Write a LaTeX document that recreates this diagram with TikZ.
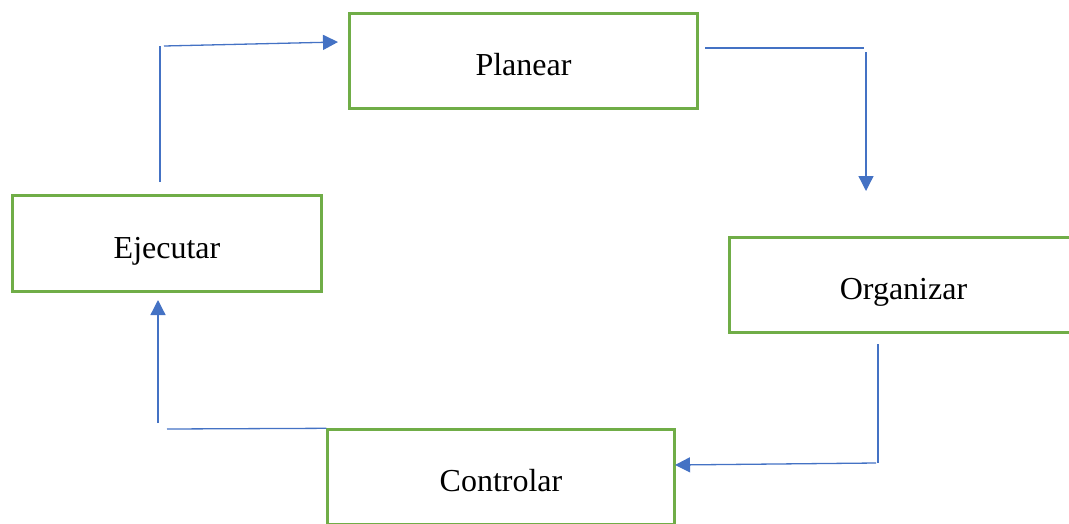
\documentclass[tikz,border=0pt]{standalone}
\usepackage{fontspec}
\setmainfont{Liberation Serif}
\usetikzlibrary{arrows.meta}
\definecolor{boxgreen}{HTML}{70AD47}
\definecolor{flowblue}{HTML}{4472C4}
\begin{document}
\begin{tikzpicture}[x=1pt,y=-1pt,
  stagebox/.style={draw=boxgreen, line width=2.4pt, fill=white, inner sep=0pt,
    text height=30pt, text depth=1pt,
    font=\fontsize{32}{38}\selectfont},
  flow/.style={draw=flowblue, line width=1.3pt},
  flowarrow/.style={flow, -{Triangle[length=15pt,width=15pt]}}]
\useasboundingbox (0,0) rectangle (1069,523);
\clip (0,0) rectangle (1069,523);

% the four stages of the cycle
\node[stagebox, minimum width=348pt, minimum height=95pt] (plan) at (523.5,61) {Planear};
\node[stagebox, minimum width=309pt, minimum height=96pt] (ejec) at (167,243.5) {Ejecutar};
\node[stagebox, minimum width=348pt, minimum height=95pt] (org)  at (903.5,285) {Organizar};
\node[stagebox, minimum width=347pt, minimum height=95pt] (ctrl) at (501,477) {Controlar};

% bend points of the connectors
\coordinate (e1) at (160,182);
\coordinate (e2) at (160,46);
\coordinate (e3) at (164,46);
\coordinate (p0) at (338,42);
\coordinate (p1) at (705,48);
\coordinate (p2) at (864,48);
\coordinate (p3) at (866,52);
\coordinate (o0) at (866,191);
\coordinate (o1) at (878,344);
\coordinate (o2) at (878,463);
\coordinate (o3) at (876,463);
\coordinate (c0) at (675,465);
\coordinate (c1) at (167,429);
\coordinate (c2) at (158,423);
\coordinate (j0) at (158,300);

% Ejecutar -> Planear
\draw[flow] (e1) -- (e2);
\draw[flowarrow] (e3) -- (p0);
% Planear -> Organizar
\draw[flow] (p1) -- (p2);
\draw[flowarrow] (p3) -- (o0);
% Organizar -> Controlar
\draw[flow] (o1) -- (o2);
\draw[flowarrow] (o3) -- (c0);
% Controlar -> Ejecutar
\draw[flow] (ctrl.north west) -- (c1);
\draw[flowarrow] (c2) -- (j0);
\end{tikzpicture}
\end{document}
